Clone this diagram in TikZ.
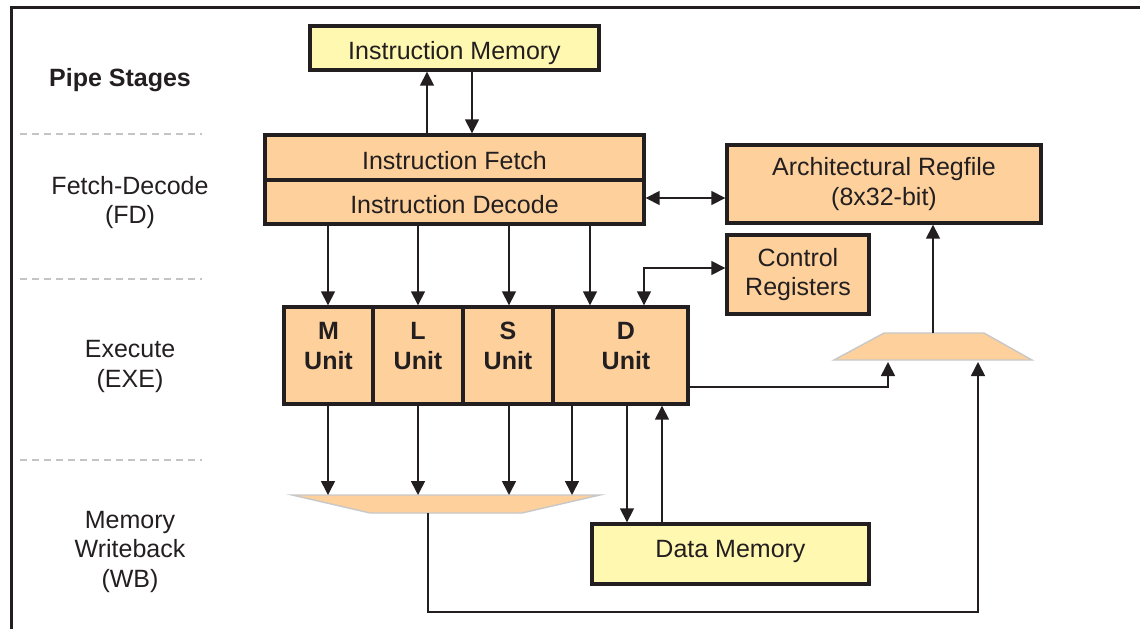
\documentclass[tikz,border=0pt]{standalone}
\usepackage{fontspec}
\setmainfont{Liberation Sans}
\usetikzlibrary{arrows.meta}
\definecolor{peach}{HTML}{FDD09C}
\definecolor{lyellow}{HTML}{FFF8B0}
\definecolor{ink}{HTML}{231F20}
\definecolor{dashgray}{HTML}{C4C4C4}
\definecolor{muxgray}{HTML}{C8C8C8}
\begin{document}
\begin{tikzpicture}[x=1pt,y=-1pt,
  every node/.style={font=\fontsize{25}{29.5}\selectfont, text=ink},
  box/.style={draw=ink, line width=3.4pt, fill=peach, inner sep=0pt, align=center},
  ybox/.style={box, fill=lyellow},
  txtdown/.style={text height=23.5pt, text depth=0pt},
  txtup/.style={text height=12pt, text depth=6pt},
  unitbox/.style={draw=ink, line width=3.4pt, fill=peach, inner sep=0pt},
  unitlbl/.style={align=center, font=\bfseries\fontsize{25}{30}\selectfont},
  stagelbl/.style={align=center},
  tip/.tip={Triangle[length=14pt,width=14pt]},
  arr/.style={draw=ink, line width=1.6pt, -tip},
  darr/.style={draw=ink, line width=1.6pt, tip-tip},
  stagesep/.style={draw=dashgray, line width=1.6pt, dash pattern=on 7pt off 5pt},
  mux/.style={draw=muxgray, line width=1.4pt, fill=peach}
]
\useasboundingbox (0,0) rectangle (1140,629);
% frame
\draw[ink, line width=3pt] (11,629) -- (11,7) -- (1140,7);

% stage labels
\node[font=\bfseries\fontsize{25}{29}\selectfont] (ps) at (120,80) {Pipe Stages};
\node[stagelbl] (fd) at (130,202.5) {Fetch-Decode\\(FD)};
\node[stagelbl] (exe) at (130,366.5) {Execute\\(EXE)};
\node[stagelbl] (wb) at (130,551.5) {Memory\\Writeback\\(WB)};
\coordinate (s1a) at (20,134); \coordinate (s1b) at (202,134);
\coordinate (s2a) at (20,279); \coordinate (s2b) at (202,279);
\coordinate (s3a) at (20,460); \coordinate (s3b) at (202,460);
\draw[stagesep] (s1a) -- (s1b);
\draw[stagesep] (s2a) -- (s2b);
\draw[stagesep] (s3a) -- (s3b);

% boxes
\node[ybox, txtdown, minimum width=289pt, minimum height=44pt] (imem) at (454.5,48) {Instruction Memory};
\node[box, txtdown, minimum width=379pt, minimum height=45pt] (ifetch) at (454.5,157.5) {Instruction Fetch};
\node[box, txtdown, minimum width=379pt, minimum height=44pt] (idec) at (454.5,202) {Instruction Decode};
\node[box, minimum width=314pt, minimum height=78pt] (regf) at (884,184) {Architectural Regfile\\(8x32-bit)};
\node[box, minimum width=142pt, minimum height=79pt] (ctrl) at (798,274.5) {Control\\Registers};

\node[unitbox, minimum width=89pt, minimum height=97pt] (M) at (328.5,355.5) {};
\node[unitbox, minimum width=90pt, minimum height=97pt] (L) at (418,355.5) {};
\node[unitbox, minimum width=90pt, minimum height=97pt] (S) at (508,355.5) {};
\node[unitbox, minimum width=135pt, minimum height=97pt] (D) at (620.5,355.5) {};
\node[unitlbl] (Mt) at (328.5,346) {M\\Unit};
\node[unitlbl] (Lt) at (418,346) {L\\Unit};
\node[unitlbl] (St) at (508,346) {S\\Unit};
\node[unitlbl] (Dt) at (626,346) {D\\Unit};

\node[ybox, txtup, minimum width=277pt, minimum height=60pt] (dmem) at (730.5,554) {Data Memory};

% muxes
\draw[mux] (292,495) -- (600,495) -- (522,513) -- (370,513) -- cycle;
\coordinate (m1out) at (428,513);
\draw[mux] (834,360) -- (884,333) -- (984,333) -- (1032,360) -- cycle;
\coordinate (m2out) at (933,333);
\coordinate (m2inA) at (888,362);
\coordinate (m2inB) at (978,362);

% instruction memory <-> fetch
\draw[arr] (427,0 |- ifetch.north) -- (427,0 |- imem.south);
\draw[arr] (472,0 |- imem.south) -- (472,0 |- ifetch.north);

% decode <-> regfile
\draw[darr] (idec.east |- 0,198) -- (regf.west |- 0,198);

% decode -> units
\draw[arr] (328,0 |- idec.south) -- (328,0 |- M.north);
\draw[arr] (418,0 |- idec.south) -- (418,0 |- L.north);
\draw[arr] (509,0 |- idec.south) -- (509,0 |- S.north);
\draw[arr] (590,0 |- idec.south) -- (590,0 |- D.north);

% D <-> control registers
\draw[darr] (644,0 |- D.north) -- (644,268) -- (ctrl.west |- 0,268);

% units -> lower mux
\draw[arr] (328,0 |- M.south) -- (328,495);
\draw[arr] (418,0 |- L.south) -- (418,495);
\draw[arr] (509,0 |- S.south) -- (509,495);
\draw[arr] (572,0 |- D.south) -- (572,495);

% D <-> data memory
\draw[arr] (627,0 |- D.south) -- (627,0 |- dmem.north);
\draw[arr] (662,0 |- dmem.north) -- (662,0 |- D.south);

% D -> upper mux
\draw[arr] (D.east |- 0,387) -- (888,387) -- (m2inA);

% lower mux -> upper mux
\draw[arr] (m1out) -- (428,612) -- (978,612) -- (m2inB);

% upper mux -> regfile
\draw[arr] (m2out) -- (933,0 |- regf.south);
\end{tikzpicture}
\end{document}
